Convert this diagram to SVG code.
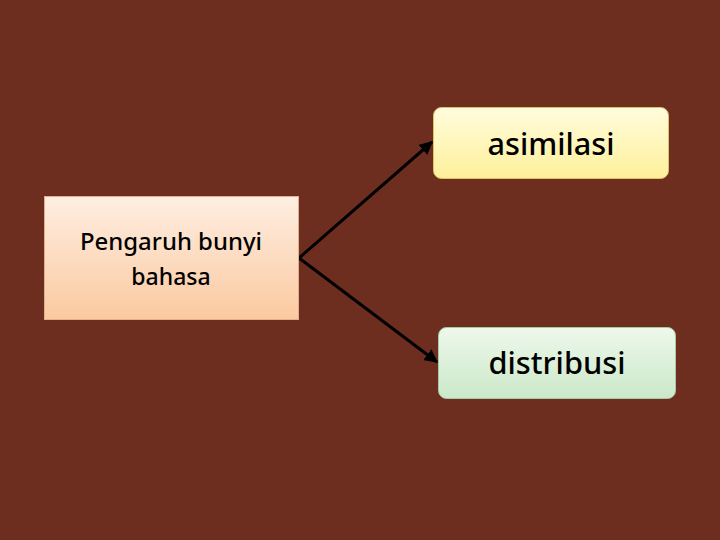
<svg xmlns="http://www.w3.org/2000/svg" width="720" height="540" viewBox="0 0 720 540">
<style>
.t{font-family:"Noto Sans","Open Sans","Liberation Sans",sans-serif;fill:#000;text-anchor:middle;font-weight:500}
.c{stroke:#000;stroke-width:3;fill:none;marker-end:url(#ah)}
</style>
<defs>
<linearGradient id="gp" x1="0" y1="0" x2="0" y2="1"><stop offset="0" stop-color="#FEEEE2"/><stop offset="1" stop-color="#FBC9A0"/></linearGradient>
<linearGradient id="gy" x1="0" y1="0" x2="0" y2="1"><stop offset="0" stop-color="#FFFCDD"/><stop offset="1" stop-color="#FEF09A"/></linearGradient>
<linearGradient id="gg" x1="0" y1="0" x2="0" y2="1"><stop offset="0" stop-color="#EEF8EC"/><stop offset="1" stop-color="#CBE8C9"/></linearGradient>
<marker id="ah" viewBox="0 0 10 10" refX="9" refY="5" markerWidth="4.5" markerHeight="4.5" orient="auto"><path d="M0,0 L10,5 L0,10 z" fill="#000"/></marker>
</defs>
<rect width="720" height="540" fill="#6E2E1F"/>
<g id="connectors">
<path class="c" d="M299,258 L432,142"/>
<path class="c" d="M299,258 L437,362"/>
</g>
<g id="pengaruh">
<rect x="44.5" y="196.5" width="254" height="123" fill="url(#gp)" stroke="#E0B08A" stroke-width="1"/>
<text class="t" x="171" y="250" font-size="23" textLength="182" lengthAdjust="spacingAndGlyphs">Pengaruh bunyi</text>
<text class="t" x="171" y="285" font-size="23">bahasa</text>
</g>
<g id="asimilasi">
<rect x="433.5" y="107.5" width="235" height="71" rx="8" fill="url(#gy)" stroke="#D8C56A" stroke-width="1"/>
<text class="t" x="551" y="155" font-size="30" textLength="127" lengthAdjust="spacingAndGlyphs">asimilasi</text>
</g>
<g id="distribusi">
<rect x="438.5" y="327.5" width="237" height="71" rx="8" fill="url(#gg)" stroke="#A9C9A5" stroke-width="1"/>
<text class="t" x="557" y="374" font-size="30" textLength="137" lengthAdjust="spacingAndGlyphs">distribusi</text>
</g>
</svg>
